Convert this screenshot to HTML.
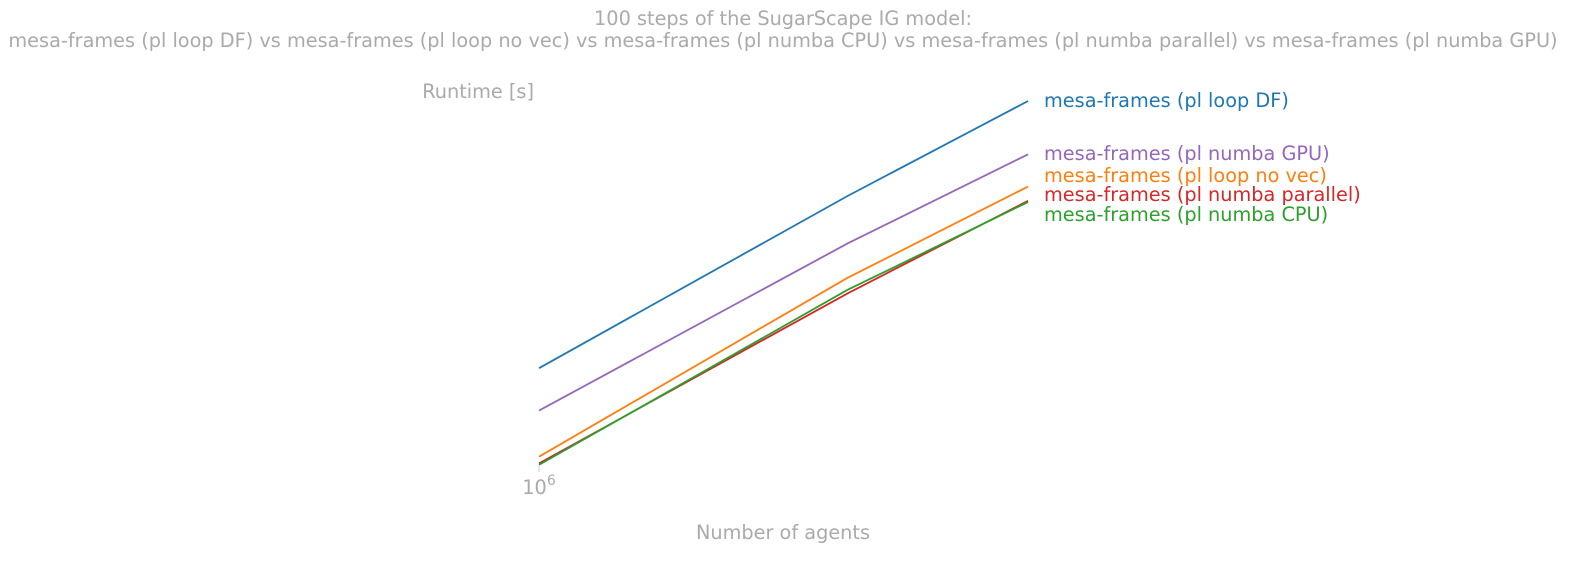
<!DOCTYPE html>
<html><head><meta charset="utf-8"><style>
body{margin:0;background:#fff;width:1586px;height:557px;overflow:hidden;font-family:"DejaVu Sans","Liberation Sans",sans-serif}
text{font-family:"DejaVu Sans","Liberation Sans",sans-serif}
</style></head><body>
<svg id="chart" width="1586" height="557">
<text x="783" y="25" text-anchor="middle" font-size="19.3" fill="#aaaaaa">100 steps of the SugarScape IG model:</text>
<text x="783" y="47" text-anchor="middle" font-size="19.3" fill="#aaaaaa">mesa-frames (pl loop DF) vs mesa-frames (pl loop no vec) vs mesa-frames (pl numba CPU) vs mesa-frames (pl numba parallel) vs mesa-frames (pl numba GPU)</text>
<text x="534" y="98" text-anchor="end" font-size="19.3" fill="#aaaaaa">Runtime [s]</text>
<text x="783" y="539" text-anchor="middle" font-size="19.3" fill="#aaaaaa">Number of agents</text>
<g id="plot"></g>
</svg>
<script>
const agents=[1e6,2e6,3e6];
const seriesNames=["mesa-frames (pl loop DF)","mesa-frames (pl numba GPU)","mesa-frames (pl loop no vec)","mesa-frames (pl numba parallel)","mesa-frames (pl numba CPU)"];
const loopDF=[10.0,20.3,30.0];
const numbaGPU=[8.4,16.7,24.1];
const loopNoVec=[6.95,14.5,21.1];
const numbaParallel=[6.76,13.6,19.9];
const numbaCPU=[6.72,13.8,19.8];
const xTicks=[1e6];
const colors=["#1f77b4","#9467bd","#ff7f0e","#d62728","#2ca02c"];
const labelY=[101,154,176,195,215];
const series=[loopDF,numbaGPU,loopNoVec,numbaParallel,numbaCPU];
const NS="http://www.w3.org/2000/svg";
const g=document.getElementById('plot');
function xs(v){return 539+1025*Math.log10(v/1e6);}
function ys(v){return 101+560*(Math.log10(30)-Math.log10(v));}
xTicks.forEach(t=>{
  const l=document.createElementNS(NS,'line');
  l.setAttribute('x1',xs(t));l.setAttribute('x2',xs(t));l.setAttribute('y1',466);l.setAttribute('y2',472);
  l.setAttribute('stroke','#cccccc');
  
  
  g.appendChild(l);
  const tx=document.createElementNS(NS,'text');
  tx.setAttribute('x',xs(t));tx.setAttribute('y',494);tx.setAttribute('text-anchor','middle');
  tx.setAttribute('font-size','19.3');tx.setAttribute('fill','#aaaaaa');
  tx.innerHTML='10<tspan dy="-9" font-size="14">6</tspan>';
  
  
  g.appendChild(tx);
});
series.forEach((s,i)=>{
  const p=document.createElementNS(NS,'polyline');
  p.setAttribute('points',s.map((v,j)=>xs(agents[j])+','+ys(v)).join(' '));
  p.setAttribute('fill','none');p.setAttribute('stroke',colors[i]);p.setAttribute('stroke-width','1.8');
  
  
  g.appendChild(p);
  const t=document.createElementNS(NS,'text');
  t.setAttribute('x',1044);t.setAttribute('y',labelY[i]+6);
  t.setAttribute('font-size','19.3');t.setAttribute('fill',colors[i]);
  t.textContent=seriesNames[i];
  
  
  g.appendChild(t);
});
</script>
</body></html>
